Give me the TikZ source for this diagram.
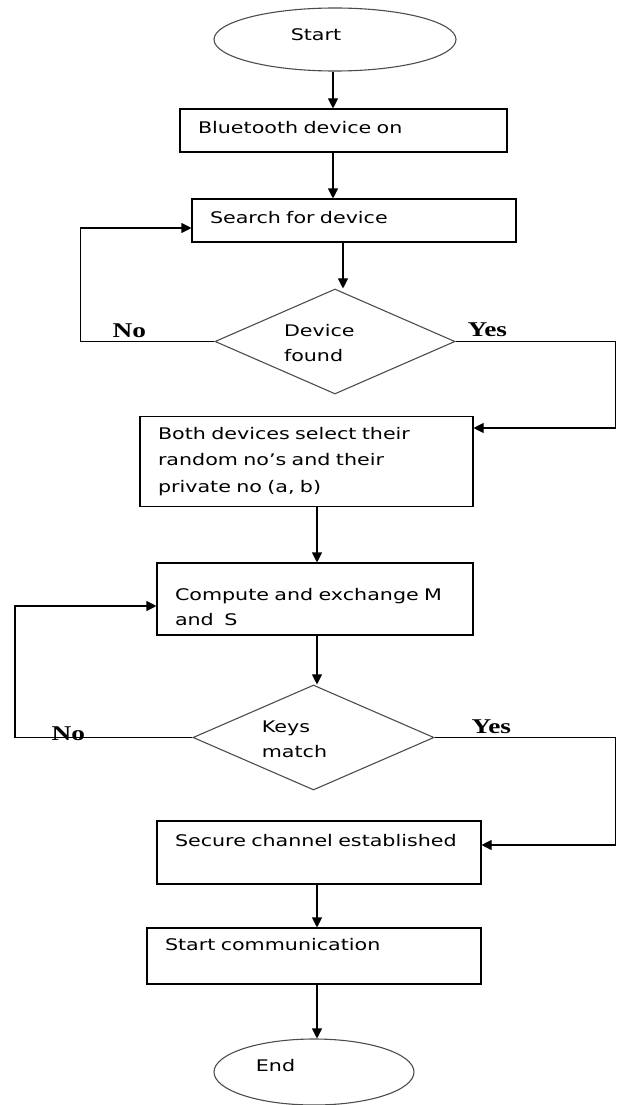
\documentclass[tikz,border=0pt]{standalone}
\usepackage{fontspec}
\usetikzlibrary{shapes.geometric,arrows.meta}
\newfontfamily\flowfont[FakeStretch=1.29]{DejaVu Sans}
\newfontfamily\yesnofont[FakeStretch=1.3]{Liberation Serif}

\begin{document}
\begin{tikzpicture}
  [x=1pt,y=-1pt,line width=1.1pt,
   every node/.style={font=\flowfont\fontsize{16}{25}\selectfont},
   term/.style={ellipse,draw=black!70,inner sep=0pt},
   proc/.style={rectangle,draw,inner xsep=18pt,inner ysep=0pt,align=left},
   dec/.style={diamond,draw=black!70,inner sep=0pt},
   txt/.style={inner sep=0pt,align=left},
   yn/.style={inner sep=0pt,anchor=base west,font=\yesnofont\bfseries\fontsize{21}{21}\selectfont},
   flow/.style={-{Triangle[length=10pt,width=10pt]}}]
  \useasboundingbox (0,0) rectangle (616,1105);

  \node[term,minimum width=242pt,minimum height=63pt] (start) at (335,39.5) {};
  \node[txt] (startt) at (316,34.2) {Start};
  \node[proc,text width=291pt,minimum height=43pt,text depth=7pt] (blue) at (343.5,130.5) {Bluetooth device on};
  \node[proc,text width=288pt,minimum height=43pt,text depth=7pt] (search) at (354,220.5) {Search for device};
  \node[dec,minimum width=240pt,minimum height=105pt] (dev) at (335,341.5) {};
  \node[txt] (devt) at (319.3,343.4) {Device\\found};
  \node[proc,text width=297pt,minimum height=90pt,font=\flowfont\fontsize{16}{26.5}\selectfont] (both) at (306.5,461.5)
    {Both devices select their\\random no’s and their\\private no (a, b)};
  \node[proc,text width=280pt,minimum height=72pt,text depth=9pt] (compute) at (315,599) {Compute and exchange M\\and\ \ S};
  \node[dec,minimum width=241pt,minimum height=105pt] (keys) at (313.5,737.5) {};
  \node[txt] (keyst) at (294.5,739.2) {Keys\\match};
  \node[proc,text width=288pt,minimum height=63pt,text depth=25pt] (secure) at (319,852.5) {Secure channel established};
  \node[proc,text width=298pt,minimum height=56pt,text depth=24pt] (startc) at (314,956) {Start communication};
  \node[term,minimum width=200pt,minimum height=66pt] (end) at (314,1072) {};
  \node[txt] (endt) at (275.5,1065.9) {End};

  \foreach \from/\dx/\to in {start/-2/blue, blue/-10.5/search, search/-11/dev,
                             both/10.5/compute, compute/2/keys,
                             secure/-2/startc, startc/3/end}
    \draw[flow] ([xshift=\dx pt]\from.south) -- ([xshift=\dx pt]\from.south |- \to.north);

  % loops back and forward
  \draw[flow] (dev.west) -- ++(-134,0) |- ([yshift=-7.5pt]search.west);
  \draw[flow] (dev.east) -- ++(159.5,0) |- ([yshift=33.5pt]both.east);
  \draw[flow] (keys.west) -- ++(-177.5,0) |- ([yshift=-7pt]compute.west);
  \draw[flow] (keys.east) -- ++(181,0) |- ([yshift=7.5pt]secure.east);

  \node[yn] (no1) at (112,337) {No};
  \node[yn] (yes1) at (467,336) {Yes};
  \node[yn] (no2) at (51,740) {No};
  \node[yn] (yes2) at (471,733) {Yes};

\end{tikzpicture}
\end{document}
